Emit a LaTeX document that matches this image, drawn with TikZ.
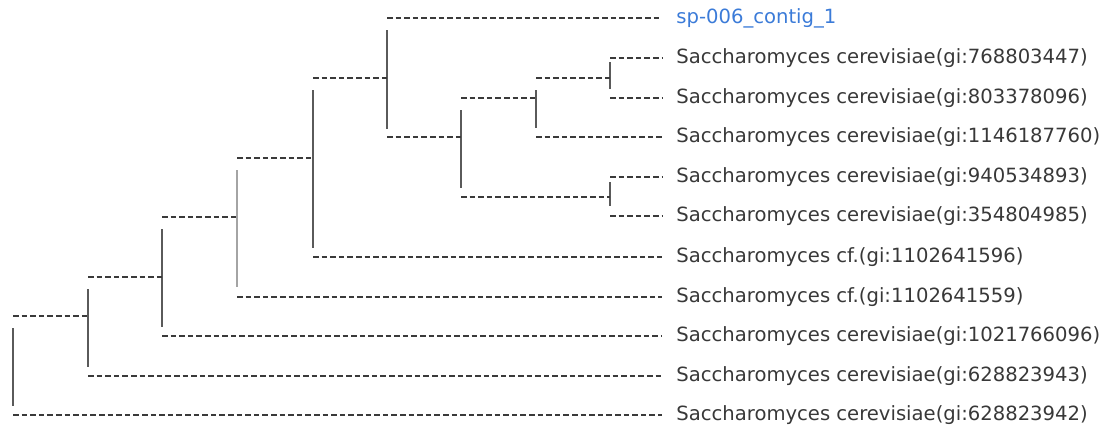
\documentclass[tikz,border=0pt]{standalone}
\usepackage{fontspec}
\setmainfont{DejaVu Sans}
\usepackage{tikz}
\usetikzlibrary{calc}

\definecolor{branchgray}{HTML}{3A3A3A}
\definecolor{stemgray}{HTML}{5A5A5A}
\definecolor{labelgray}{HTML}{383838}
\definecolor{queryblue}{HTML}{3B7BD8}

\begin{document}
\begin{tikzpicture}[x=0.5pt, y=-0.5pt,
                branch/.style={draw=branchgray, line width=0.75pt, dash pattern=on 2.8pt off 1.5pt},
                stem/.style={draw=stemgray, line width=1.1pt},
                leaf/.style={anchor=west, inner xsep=7pt, inner ysep=0pt, text=labelgray,
                             font=\fontsize{9.8}{11}\selectfont},
                query/.style={leaf, text=queryblue}]
            \useasboundingbox (0,0) rectangle (1109,429);

            % labels at the tips
            \node[query] (contig) at (662,18)  {sp-006\_contig\_1};
            \node[leaf]  (sc768)  at (662,58)  {Saccharomyces cerevisiae(gi:768803447)};
            \node[leaf]  (sc803)  at (662,98)  {Saccharomyces cerevisiae(gi:803378096)};
            \node[leaf]  (sc1146) at (662,137) {Saccharomyces cerevisiae(gi:1146187760)};
            \node[leaf]  (sc940)  at (662,177) {Saccharomyces cerevisiae(gi:940534893)};
            \node[leaf]  (sc354)  at (662,216) {Saccharomyces cerevisiae(gi:354804985)};
            \node[leaf]  (cf596)  at (662,257) {Saccharomyces cf.(gi:1102641596)};
            \node[leaf]  (cf559)  at (662,297) {Saccharomyces cf.(gi:1102641559)};
            \node[leaf]  (sc1021) at (662,336) {Saccharomyces cerevisiae(gi:1021766096)};
            \node[leaf]  (sc943)  at (662,376) {Saccharomyces cerevisiae(gi:628823943)};
            \node[leaf]  (sc942)  at (662,415) {Saccharomyces cerevisiae(gi:628823942)};

            % inner nodes
            \coordinate (root) at (13,367);
            \coordinate (n1) at (88,316);
            \coordinate (n2) at (162,277);
            \coordinate (n3) at (237,217);
            \coordinate (n4) at (313,158);
            \coordinate (n5) at (387,78);
            \coordinate (n6) at (461,137);
            \coordinate (n7) at (536,98);
            \coordinate (n8) at (610,197);
            \coordinate (n9) at (610,78);

            % vertical stems
            \draw[stem] ($(root |- n1)+(0,12)$) -- ($(root |- sc942)+(0,-9)$);
            \draw[stem] ($(n1 |- n2)+(0,12)$) -- ($(n1 |- sc943)+(0,-9)$);
            \draw[stem] ($(n2 |- n3)+(0,12)$) -- ($(n2 |- sc1021)+(0,-9)$);
            \draw[stem, draw=stemgray!55] ($(n3 |- n4)+(0,12)$) -- ($(n3 |- cf559)+(0,-10)$);
            \draw[stem] ($(n4 |- n5)+(0,12)$) -- ($(n4 |- cf596)+(0,-9)$);
            \draw[stem] ($(n5 |- contig)+(0,12)$) -- ($(n5 |- n6)+(0,-8)$);
            \draw[stem] ($(n6 |- n7)+(0,12)$) -- ($(n6 |- n8)+(0,-9)$);
            \draw[stem] ($(n7 |- n9)+(0,12)$) -- ($(n7 |- sc1146)+(0,-9)$);
            \draw[stem] ($(n9 |- sc768)+(0,4)$) -- ($(n9 |- sc803)+(0,-9)$);
            \draw[stem] ($(n8 |- sc940)+(0,5)$) -- ($(n8 |- sc354)+(0,-10)$);

            % horizontal branches
            \draw[branch] (root |- n1) -- (n1);
            \draw[branch] (root |- sc942) -- (sc942.west);
            \draw[branch] (n1 |- n2) -- (n2);
            \draw[branch] (n1 |- sc943) -- (sc943.west);
            \draw[branch] (n2 |- n3) -- (n3);
            \draw[branch] (n2 |- sc1021) -- (sc1021.west);
            \draw[branch] (n3 |- n4) -- (n4);
            \draw[branch] (n3 |- cf559) -- (cf559.west);
            \draw[branch] (n4 |- n5) -- (n5);
            \draw[branch] (n4 |- cf596) -- (cf596.west);
            \draw[branch] (n5 |- contig) -- (contig.west);
            \draw[branch] (n5 |- n6) -- (n6);
            \draw[branch] (n6 |- n7) -- (n7);
            \draw[branch] (n6 |- n8) -- (n8);
            \draw[branch] (n7 |- n9) -- (n9);
            \draw[branch] (n7 |- sc1146) -- (sc1146.west);
            \draw[branch] (n9 |- sc768) -- (sc768.west);
            \draw[branch] (n9 |- sc803) -- (sc803.west);
            \draw[branch] (n8 |- sc940) -- (sc940.west);
            \draw[branch] (n8 |- sc354) -- (sc354.west);
        \end{tikzpicture}
\end{document}
